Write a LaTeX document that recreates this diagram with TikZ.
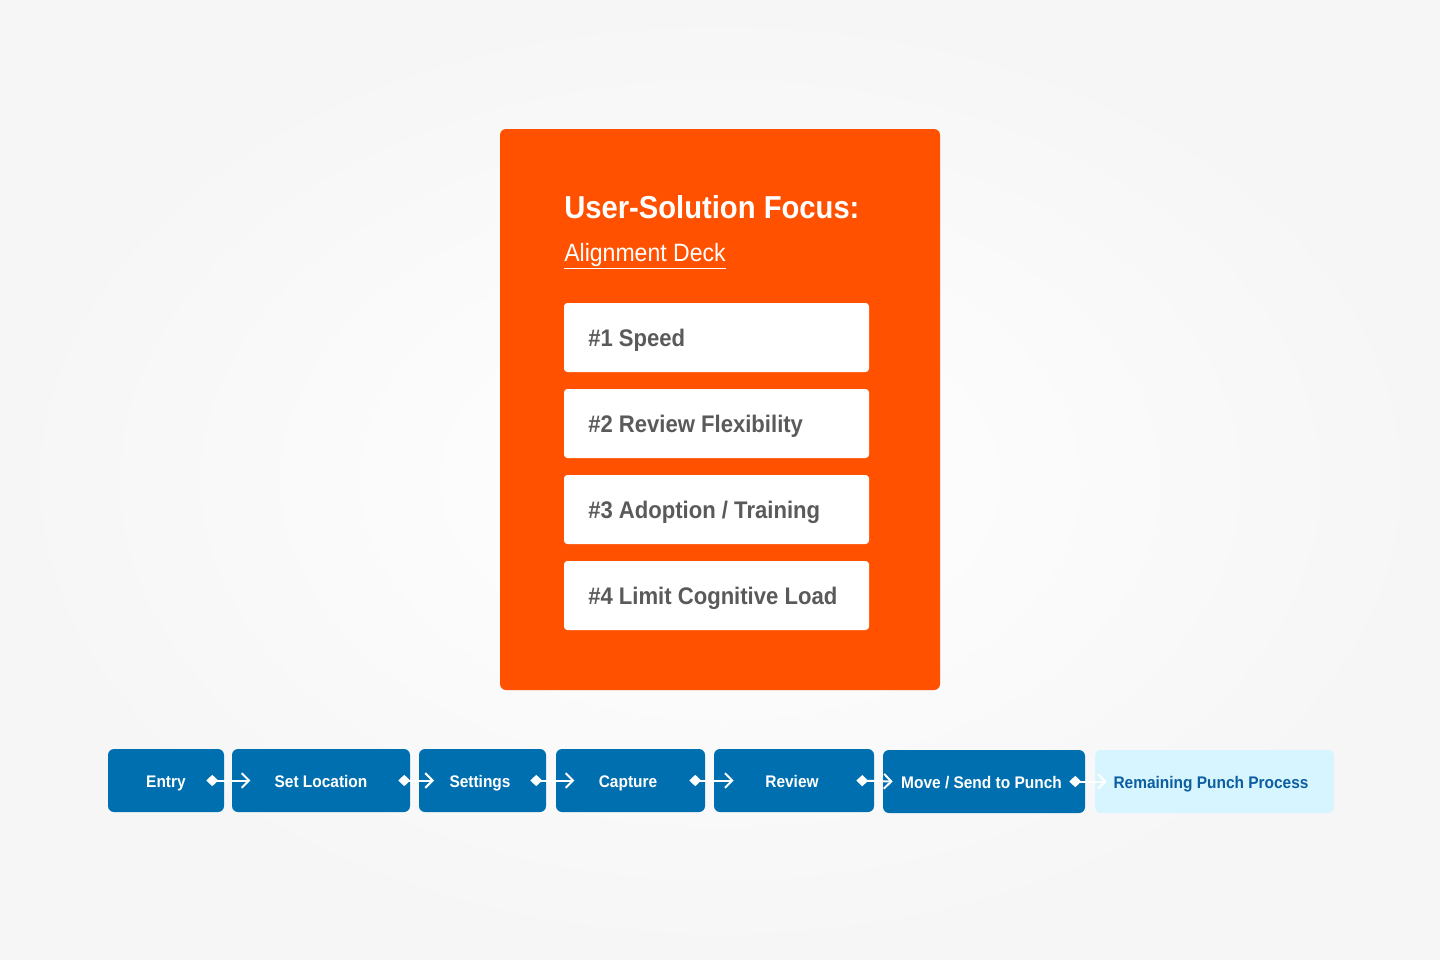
\documentclass[tikz,border=0pt]{standalone}
\usepackage{fontspec}
\setmainfont{Liberation Sans}[FakeStretch=0.92]
\usetikzlibrary{arrows.meta}
\definecolor{bgout}{RGB}{246,246,246}
\definecolor{orangebg}{RGB}{255,81,0}
\definecolor{itemtext}{RGB}{90,90,90}
\definecolor{flowblue}{RGB}{0,111,175}
\definecolor{lightblue}{RGB}{214,245,255}
\definecolor{darkbluetext}{RGB}{12,94,160}
\tikzset{
  x=0.75pt, y=-0.75pt,
  panel/.style={fill=orangebg, rounded corners=4.5pt, inner sep=0pt},
  itembox/.style={fill=white, rounded corners=2.5pt, minimum width=228.75pt, minimum height=51.75pt, inner sep=0pt},
  itemtext/.style={anchor=base west, text=itemtext, font=\fontsize{18}{22}\selectfont\bfseries, inner sep=0pt},
  flowbox/.style={fill=flowblue, rounded corners=4.5pt, minimum height=47.25pt, inner sep=0pt},
  lastbox/.style={fill=lightblue, rounded corners=4.5pt, minimum height=47.25pt, inner sep=0pt},
  flowtext/.style={anchor=base, inner sep=0pt, text=white, font=\fontsize{12.6}{14}\selectfont\bfseries},
  lasttext/.style={anchor=base, inner sep=0pt, text=darkbluetext, font=\fontsize{12.6}{14}\selectfont\bfseries},
  conn/.style={draw=white, line width=1.5pt, {Diamond[length=9pt,width=8.5pt]}-{Straight Barb[length=5.5pt,width=11pt,line width=1.5pt]}}
}
\begin{document}
\begin{tikzpicture}
\useasboundingbox (0,0) rectangle (1440,960);
\shade[inner color=white, outer color=bgout] (0,0) rectangle (1440,960);

% orange panel
\node[panel, minimum width=330pt, minimum height=420.75pt] (panel) at (720,409.5) {};
\node[anchor=base west, text=white, inner sep=0pt, font=\fontsize{23.8}{28}\selectfont\bfseries] (title) at (564,218) {User-Solution Focus:};
\node[anchor=base west, text=white, inner sep=0pt, font=\fontsize{18.8}{22}\selectfont] (deck) at (564,261) {\underline{Alignment Deck}};

% items
\node[itembox] (i1) at (716.5,337.5) {};
\node[itemtext] (t1) at (588,346.5) {\#1 Speed};
\node[itembox] (i2) at (716.5,423.5) {};
\node[itemtext] (t2) at (588,432.5) {\#2 Review Flexibility};
\node[itembox] (i3) at (716.5,509.5) {};
\node[itemtext] (t3) at (588,518.5) {\#3 Adoption / Training};
\node[itembox] (i4) at (716.5,595.5) {};
\node[itemtext] (t4) at (588,604.5) {\#4 Limit Cognitive Load};

% flow boxes
\node[flowbox, minimum width=87pt] (entry) at (166,780.5) {};
\node[flowbox, minimum width=133.5pt] (loc) at (321,780.5) {};
\node[flowbox, minimum width=95.25pt] (set) at (482.5,780.5) {};
\node[flowbox, minimum width=111.75pt] (cap) at (630.5,780.5) {};
\node[flowbox, minimum width=120pt] (rev) at (794,780.5) {};
\node[flowbox, minimum width=151.5pt] (move) at (984,781.5) {};
\node[lastbox, minimum width=179.25pt] (rem) at (1214.5,781.5) {};

% flow labels
\node[flowtext] (lentry) at (166,787) {Entry};
\node[flowtext] (lloc) at (321,787) {Set Location};
\node[flowtext] (lset) at (480,787) {Settings};
\node[flowtext] (lcap) at (628,787) {Capture};
\node[flowtext] (lrev) at (792,787) {Review};
\node[flowtext] (lmove) at (981.5,788) {Move / Send to Punch};
\node[lasttext] (lrem) at (1211,788) {Remaining Punch Process};

% connectors
\draw[conn] ([xshift=-13.5pt]entry.east) -- ([xshift=14pt]loc.west);
\draw[conn] ([xshift=-9pt]loc.east) -- ([xshift=11.5pt]set.west);
\draw[conn] ([xshift=-12pt]set.east) -- ([xshift=14pt]cap.west);
\draw[conn] ([xshift=-12pt]cap.east) -- ([xshift=15pt]rev.west);
\draw[conn] ([xshift=-13.5pt]rev.east) -- ([xshift=7.5pt]move.west);
\draw[conn] ([xshift=-12pt]move.east) -- ([xshift=9pt]rem.west);
\end{tikzpicture}
\end{document}
